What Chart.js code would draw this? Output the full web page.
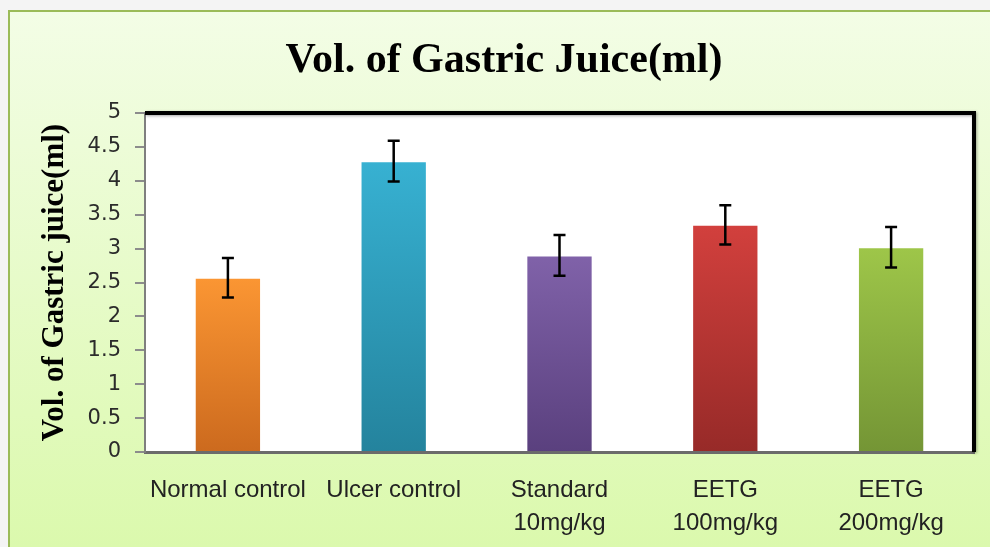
<!DOCTYPE html>
<html lang="en">
<head>
  <meta charset="UTF-8">
  <title>Vol. of Gastric Juice(ml)</title>
  <script src="https://cdn.jsdelivr.net/npm/chart.js"></script>
  <style>
    body {
      margin: 0;
      background: #ffffff;
    }
    canvas {
      display: block;
    }
  </style>
</head>
<body>
  <canvas id="gastricChart" width="990" height="547"></canvas>
  <script>
    const groups = [
      "Normal control",
      "Ulcer control",
      ["Standard", "10mg/kg"],
      ["EETG", "100mg/kg"],
      ["EETG", "200mg/kg"]
    ];
    const volumes = [2.57, 4.29, 2.9, 3.35, 3.02];
    const errors = [0.29, 0.3, 0.3, 0.29, 0.3];
    const topColors = ["#fb9633", "#37b1d2", "#8062a9", "#d2403d", "#9ec649"];
    const bottomColors = ["#cc6a1e", "#24839d", "#5a407e", "#972a28", "#749535"];
    const titleText = "Vol. of Gastric Juice(ml)";
    const yTitle = "Vol. of Gastric juice(ml)";

    // 枠と背景
    const framePlugin = {
      id: "frame",
      beforeDraw(chart) {
        const c = chart.ctx;
        const w = chart.width, h = chart.height;
        c.save();
        c.fillStyle = "#f4f4f4";
        c.fillRect(0, 0, w, h);
        const g = c.createLinearGradient(0, 10, 0, h);
        g.addColorStop(0, "#f3fde6");
        g.addColorStop(1, "#dbf9ad");
        c.fillStyle = g;
        c.fillRect(8, 10, w - 8, h - 10);
        c.strokeStyle = "#9bbb59";
        c.lineWidth = 2;
        c.beginPath();
        c.moveTo(9, h);
        c.lineTo(9, 11);
        c.lineTo(w, 11);
        c.stroke();

        const a = chart.chartArea;
        c.fillStyle = "#ffffff";
        c.fillRect(a.left, a.top, a.right - a.left, a.bottom - a.top);

        c.fillStyle = "#000000";
        c.font = "bold 42px 'Liberation Serif', 'Times New Roman', serif";
        c.textAlign = "center";
        c.textBaseline = "alphabetic";
        c.fillText(titleText, 504, 72);
        c.restore();
      },
      afterDraw(chart) {
        const c = chart.ctx;
        const a = chart.chartArea;
        c.save();
        c.strokeStyle = "#000000";
        c.lineWidth = 4;
        c.shadowColor = "rgba(0,0,0,0.35)";
        c.shadowBlur = 3;
        c.shadowOffsetX = 1;
        c.shadowOffsetY = 1;
        c.beginPath();
        c.moveTo(a.left, a.top);
        c.lineTo(a.right, a.top);
        c.lineTo(a.right, a.bottom);
        c.stroke();
        c.restore();
      }
    };

    // 誤差棒
    const errorBarPlugin = {
      id: "errorBars",
      afterDatasetsDraw(chart) {
        const c = chart.ctx;
        const y = chart.scales.y;
        const meta = chart.getDatasetMeta(0);
        c.save();
        c.strokeStyle = "#000000";
        c.lineWidth = 2.5;
        meta.data.forEach((bar, i) => {
          const hi = y.getPixelForValue(volumes[i] + errors[i]);
          const lo = y.getPixelForValue(volumes[i] - errors[i]);
          c.beginPath();
          c.moveTo(bar.x, hi);
          c.lineTo(bar.x, lo);
          c.moveTo(bar.x - 6, hi);
          c.lineTo(bar.x + 6, hi);
          c.moveTo(bar.x - 6, lo);
          c.lineTo(bar.x + 6, lo);
          c.stroke();
        });
        c.restore();
      }
    };

    function barGradient(context) {
      const chart = context.chart;
      const area = chart.chartArea;
      if (!area) return topColors[context.dataIndex];
      const i = context.dataIndex;
      const top = chart.scales.y.getPixelForValue(volumes[i]);
      const g = chart.ctx.createLinearGradient(0, top, 0, area.bottom);
      g.addColorStop(0, topColors[i]);
      g.addColorStop(1, bottomColors[i]);
      return g;
    }

    const ctx = document.getElementById("gastricChart").getContext("2d");

    new Chart(ctx, {
      type: "bar",
      data: {
        labels: groups,
        datasets: [
          {
            label: yTitle,
            data: volumes,
            backgroundColor: barGradient,
            borderColor: "rgba(255,255,255,0.25)",
            borderWidth: 1,
            barPercentage: 0.4,
            categoryPercentage: 1.0,
          }
        ],
      },
      options: {
        responsive: false,
        animation: false,
        layout: {
          padding: { left: 0, right: 16, top: 113, bottom: 0 }
        },
        plugins: {
          legend: { display: false },
          tooltip: { enabled: false },
          title: { display: false },
        },
        scales: {
          x: {
            type: "category",
            afterFit(scale) { scale.height = 95; },
            grid: { display: false, drawTicks: false },
            border: { display: true, color: "#6b6b6b", width: 3 },
            ticks: {
              color: "#222222",
              font: { family: "'Liberation Sans', Arial, sans-serif", size: 24, lineHeight: 1.375 },
              padding: 22,
              maxRotation: 0,
              autoSkip: false,
            },
          },
          y: {
            min: 0,
            max: 5,
            afterFit(scale) { scale.width = 145; },
            grid: { drawOnChartArea: false, tickLength: 10, color: "#8c8c8c", lineWidth: 2 },
            border: { display: true, color: "#7f7f7f", width: 2 },
            ticks: {
              stepSize: 0.5,
              color: "#2b2b2b",
              font: { family: "'DejaVu Sans', sans-serif", size: 21 },
              padding: 14,
              callback: (value) => String(value),
            },
            title: {
              display: true,
              text: yTitle,
              color: "#000000",
              font: { family: "'Liberation Serif', 'Times New Roman', serif", size: 31, weight: "bold" },
              padding: { top: 36, bottom: 0 },
            },
          },
        },
      },
      plugins: [framePlugin, errorBarPlugin],
    });
  </script>
</body>
</html>
